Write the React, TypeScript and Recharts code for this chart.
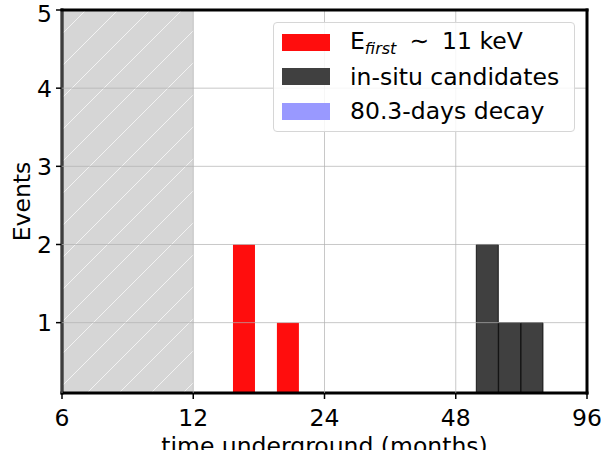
import React from 'react'
import {
  ComposedChart,
  Bar,
  XAxis,
  YAxis,
  CartesianGrid,
  ReferenceArea,
  ReferenceLine,
  Legend,
} from 'recharts'

// bin centres in months underground (log binning) and counts per bin
const firstMonths = [15.7, 19.8]
const firstCounts = [2, 1]
const insituMonths = [56.75, 63.85, 71.85]
const insituCounts = [2, 1, 1]

const xTicks = [6, 12, 24, 48, 96]
const xMinorTicks = [7, 8, 9, 20, 30, 40, 50, 60, 70, 80, 90]
const yTicks = [1, 2, 3, 4, 5]
const xDomain = [6, 96]
const yDomain = [0.1, 5]
const excludedRange = [6, 12]

const RED = '#ff0d0d'
const DARK = '#404040'
const BLUE = '#9999ff'
const FONT = '"DejaVu Sans", sans-serif'
const FS = 23.5

const rows = [
  ...firstMonths.map((t, i) => ({ t, first: firstCounts[i], insitu: null })),
  ...insituMonths.map((t, i) => ({ t, first: null, insitu: insituCounts[i] })),
]

const spine = { stroke: '#000', strokeWidth: 3, strokeLinecap: 'square' as const }
const tickStyle = { fontSize: FS, fill: '#000', fontFamily: FONT }

function LegendBox() {
  const swatch = (color: string) => (
    <div style={{ width: 48, height: 17, background: color, flexShrink: 0 }} />
  )
  const row = (color: string, label: React.ReactNode) => (
    <div style={{ display: 'flex', alignItems: 'center', height: 34.5, gap: 20 }}>
      {swatch(color)}
      <div style={{ whiteSpace: 'nowrap', lineHeight: '24px' }}>{label}</div>
    </div>
  )
  return (
    <div
      style={{
        boxSizing: 'border-box',
        width: 302,
        height: 110,
        border: '1px solid #d6d6d6',
        borderRadius: 4,
        background: 'rgba(255,255,255,0.85)',
        padding: '2px 0 0 8px',
        fontFamily: FONT,
        fontSize: FS,
        color: '#000',
      }}
    >
      {row(
        RED,
        <span>
          E<span style={{ fontStyle: 'italic', fontSize: 16, position: 'relative', top: 5 }}>first</span>
          <span style={{ display: 'inline-block', margin: '0 13px 0 13px' }}>∼</span>
          11 keV
        </span>,
      )}
      {row(DARK, 'in-situ candidates')}
      {row(BLUE, '80.3-days decay')}
    </div>
  )
}

export default function App() {
  return (
    <div style={{ position: 'absolute', left: 0, top: 0, background: '#fff' }}>
      <ComposedChart
        width={601}
        height={450}
        data={rows}
        margin={{ top: 10, right: 14, bottom: 0, left: 0 }}
      >
        <defs>
          <pattern id="hatch" width="32" height="32" patternUnits="userSpaceOnUse">
            <rect width="32" height="32" fill="#d6d6d6" />
            <path d="M-8,8 L8,-8 M0,32 L32,0 M24,40 L40,24" stroke="#f2f2f2" strokeWidth={1} />
          </pattern>
        </defs>
        <XAxis
          xAxisId="minor"
          type="number"
          scale="log"
          dataKey="t"
          domain={xDomain}
          ticks={xMinorTicks}
          allowDataOverflow
          height={0}
          tick={false}
          axisLine={false}
          tickSize={3.5}
          tickLine={{ stroke: '#000', strokeWidth: 1 }}
        />
        <XAxis
          type="number"
          scale="log"
          dataKey="t"
          domain={xDomain}
          ticks={xTicks}
          allowDataOverflow
          height={57}
          tick={tickStyle}
          tickSize={6}
          tickMargin={10}
          tickLine={{ stroke: '#000', strokeWidth: 1.5 }}
          axisLine={spine}
          label={{
            value: 'time underground (months)',
            position: 'insideBottom',
            offset: -4,
            fontSize: FS,
            fill: '#000',
            fontFamily: FONT,
          }}
        />
        <YAxis
          type="number"
          domain={yDomain}
          ticks={yTicks}
          allowDataOverflow
          width={62}
          tick={tickStyle}
          tickSize={6}
          tickMargin={4}
          tickLine={{ stroke: '#000', strokeWidth: 1.5 }}
          axisLine={spine}
          label={{
            value: 'Events',
            angle: -90,
            position: 'insideLeft',
            offset: 22,
            fontSize: FS,
            fill: '#000',
            fontFamily: FONT,
            style: { textAnchor: 'middle' },
          }}
        />
        <ReferenceArea
          x1={excludedRange[0]}
          x2={excludedRange[1]}
          y1={yDomain[0]}
          y2={yDomain[1]}
          fill="url(#hatch)"
          fillOpacity={1}
          stroke="none"
          ifOverflow="hidden"
        />
        <Bar
          dataKey="first"
          stackId="h"
          fill={RED}
          barSize={22}
          isAnimationActive={false}
        />
        <Bar
          dataKey="insitu"
          stackId="h"
          fill={DARK}
          stroke="#000"
          strokeWidth={0.8}
          barSize={22}
          isAnimationActive={false}
        />
        <CartesianGrid
          zIndex={500}
          stroke="#b0b0b0"
          strokeOpacity={0.7}
          horizontalValues={yTicks}
          verticalValues={xTicks}
        />
        <ReferenceLine y={yDomain[1]} stroke="#000" strokeWidth={3} strokeLinecap="square" zIndex={600} />
        <ReferenceLine x={xDomain[1]} stroke="#000" strokeWidth={3} strokeLinecap="square" zIndex={600} />
        <Legend
          content={() => <LegendBox />}
          layout="vertical"
          align="center"
          verticalAlign="middle"
          wrapperStyle={{ left: 273, top: 22, width: 302, height: 110 }}
        />
      </ComposedChart>
    </div>
  )
}
